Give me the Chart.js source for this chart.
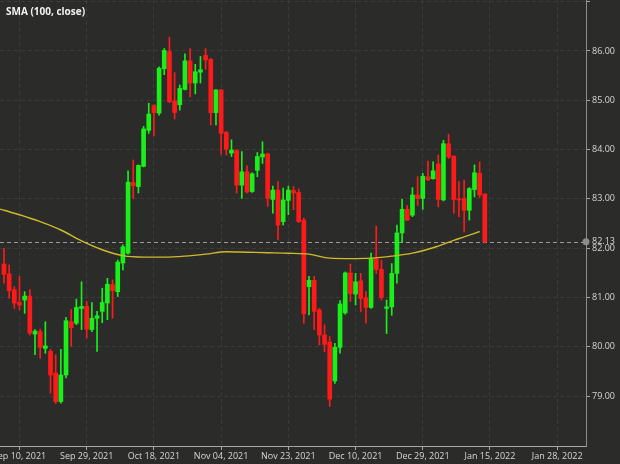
<!DOCTYPE html>
<html>
<head>
<meta charset="utf-8">
<script src="https://cdn.jsdelivr.net/npm/chart.js@4.4.1/dist/chart.umd.min.js"></script>
<style>
html,body{margin:0;padding:0;background:#2b2c2a;}
#wrap{position:relative;width:620px;height:464px;overflow:hidden;}
#title{position:absolute;left:6px;top:5px;font-family:'Open Sans';font-weight:700;font-size:10px;line-height:12px;color:#f2f2f2;white-space:nowrap;}
</style>
</head>
<body>
<div id="wrap"><canvas id="c"></canvas><div id="title">SMA (100, close)</div></div>
<script>
// ---- data (slot 0 = Sep 10, 2021; one slot per trading day) ----
const firstSlot = -3;
const open  = [81.68,81.48,81.16,80.90,80.95,81.03,80.26,80.31,79.97,79.91,79.47,78.89,79.43,80.51,80.48,80.78,80.82,80.35,80.58,80.72,80.89,81.26,81.12,81.70,81.90,83.33,83.25,83.66,84.39,84.90,84.74,85.64,85.99,84.99,84.91,85.22,85.80,85.35,85.57,85.91,85.83,84.75,85.21,84.35,83.93,83.98,83.28,83.55,83.15,83.58,83.85,83.91,82.99,83.18,82.54,82.97,83.17,83.13,82.57,81.22,81.35,80.75,80.24,80.10,79.31,79.99,80.69,81.50,81.07,81.34,81.00,80.80,81.79,81.57,80.78,80.81,81.49,82.31,82.79,82.67,83.08,83.01,83.45,83.41,83.71,82.98,84.12,83.87,83.00,83.01,82.77,83.19,83.52,83.10];
const high  = [82.00,81.66,81.22,81.43,81.12,81.16,80.35,80.36,80.51,79.95,79.84,79.95,80.60,80.76,80.97,81.32,80.92,80.90,80.72,81.19,81.39,81.36,81.76,82.07,83.57,83.79,83.69,84.47,84.94,84.91,85.68,86.05,86.28,85.56,85.31,85.94,86.05,85.73,85.89,86.05,85.85,85.22,85.22,84.37,84.20,84.00,83.96,83.67,83.53,83.94,84.16,83.93,83.26,83.35,83.22,83.26,83.25,83.20,82.61,81.43,81.43,80.78,80.45,80.21,80.07,80.94,81.52,81.68,81.49,81.49,81.12,81.90,82.45,81.76,80.95,81.69,82.47,82.99,82.87,83.23,83.45,83.52,83.77,83.75,83.89,84.19,84.31,83.87,83.35,83.38,83.23,83.69,83.75,83.11];
const low   = [81.29,80.99,80.78,80.75,80.68,80.24,79.84,79.77,79.87,79.06,78.85,78.86,79.37,80.01,80.45,80.35,80.18,80.31,79.91,80.49,80.55,80.58,81.02,81.56,81.88,83.01,83.12,83.65,84.33,84.28,84.70,85.52,84.95,84.62,84.80,85.21,85.07,85.13,85.35,85.63,84.50,84.50,83.91,83.89,83.86,83.12,83.01,83.12,83.13,83.45,83.72,82.85,82.71,82.17,82.47,82.68,82.78,82.52,80.48,80.65,80.35,80.04,79.90,78.79,79.26,79.87,80.66,80.92,80.85,80.71,80.48,80.78,81.49,80.95,80.27,80.64,81.29,82.13,82.56,82.64,82.87,82.79,83.37,83.40,82.84,82.96,83.82,82.71,82.64,82.33,82.57,83.04,83.03,82.11];
const close = [81.47,81.14,80.89,80.85,81.03,80.28,80.32,79.99,80.02,79.43,78.89,79.43,80.53,80.39,80.80,80.82,80.36,80.58,80.63,80.90,81.27,81.14,81.72,82.03,83.34,83.27,83.68,84.42,84.72,84.75,85.65,86.01,84.97,84.75,85.24,85.80,85.35,85.58,85.62,85.82,84.75,85.21,84.33,84.01,83.99,83.28,83.55,83.14,83.51,83.86,83.91,83.01,83.18,82.47,82.98,83.18,83.12,82.54,80.67,81.35,80.72,80.24,80.05,78.94,79.99,80.87,81.50,81.08,81.32,80.98,80.80,81.79,81.57,81.00,80.81,81.49,82.31,82.79,82.57,83.08,83.01,83.46,83.39,83.57,82.99,84.12,83.85,82.99,82.98,82.77,83.21,83.53,83.08,82.13];

const smaSlots  = [-4,-3,0,4,8,12,16,20,24,28,32,36,40,44,48,52,56,60,64,68,72,76,80,84,86,89];
const smaValues = [82.80,82.77,82.68,82.54,82.37,82.15,81.97,81.85,81.82,81.82,81.84,81.88,81.93,81.92,81.91,81.90,81.88,81.80,81.79,81.80,81.84,81.90,82.01,82.16,82.23,82.34];

const tickSlots  = [0,13,26,39,52,65,78,91,104];
const tickLabels = ['Sep 10, 2021','Sep 29, 2021','Oct 18, 2021','Nov 04, 2021','Nov 23, 2021','Dec 10, 2021','Dec 29, 2021','Jan 15, 2022','Jan 28, 2022'];
const priceTicks = [79,80,81,82,83,84,85,86,87];

// ---- build ----
const UP = '#19f019', DOWN = '#ff1a1a';
const slots = open.map((_, i) => firstSlot + i);
const isUp = i => close[i] >= open[i];
const bodyData = slots.map((s, i) => ({x: s, y: [open[i], close[i]]}));
const wickData = slots.map((s, i) => ({x: s, y: [low[i], high[i]]}));
const smaData  = smaSlots.map((s, i) => ({x: s, y: smaValues[i]}));
const lastClose = close[close.length - 1];
const FONT = {family: "'Open Sans'", size: 9};

const lastPrice = {
  id: 'lastPrice',
  beforeDatasetsDraw(chart) {
    const {ctx, chartArea: {left, right}} = chart;
    const y = Math.round(chart.scales.y.getPixelForValue(lastClose)) + 0.5;
    ctx.save();
    ctx.strokeStyle = '#9a9a98';
    ctx.lineWidth = 1;
    ctx.setLineDash([4, 3]);
    ctx.beginPath(); ctx.moveTo(left, y); ctx.lineTo(right, y); ctx.stroke();
    ctx.restore();
  },
  afterDraw(chart) {
    const {ctx, chartArea: {right}} = chart;
    const y = chart.scales.y.getPixelForValue(lastClose);
    ctx.save();
    ctx.fillStyle = '#8c8c8a';
    ctx.beginPath(); ctx.arc(right, y, 3.5, 0, Math.PI * 2); ctx.fill();
    ctx.fillStyle = '#d6d6d6';
    ctx.font = "9px 'Open Sans'";
    ctx.textBaseline = 'middle';
    ctx.fillText(lastClose.toFixed(2), right + 6, y);
    ctx.restore();
  }
};

new Chart(document.getElementById('c'), {
  type: 'bar',
  data: {
    datasets: [
      {type: 'line', data: smaData, borderColor: '#cfba2a', borderWidth: 1.4, pointRadius: 0,
       cubicInterpolationMode: 'monotone', order: 0},
      {data: bodyData, barThickness: 4, minBarLength: 1, grouped: false, order: 1,
       backgroundColor: c => isUp(c.dataIndex) ? UP : DOWN},
      {data: wickData, barThickness: 1, grouped: false, order: 2,
       backgroundColor: c => isUp(c.dataIndex) ? UP : DOWN}
    ]
  },
  options: {
    responsive: true, maintainAspectRatio: false, animation: false, events: [],
    layout: {padding: 0},
    plugins: {legend: {display: false}, tooltip: {enabled: false}, title: {display: false}},
    scales: {
      x: {
        type: 'linear', min: -3.77, max: 109.57, offset: false,
        afterBuildTicks: s => { s.ticks = tickSlots.map(v => ({value: v})); },
        afterFit: s => { s.height = 18; s.paddingLeft = 0; s.paddingRight = 0; },
        ticks: {autoSkip: false, maxRotation: 0, minRotation: 0, color: '#d6d6d6', font: FONT, padding: 1,
                callback: (v, i) => tickLabels[i]},
        grid: {color: '#3a3c39', lineWidth: 1, offset: false, tickLength: 4, tickColor: '#a8a8a8'},
        border: {display: true, color: '#a8a8a8', width: 1, dash: [4, 3]}
      },
      y: {
        type: 'linear', position: 'right', min: 77.99, max: 87.034,
        afterBuildTicks: s => { s.ticks = priceTicks.map(v => ({value: v})); },
        afterFit: s => { s.width = 34; s.paddingTop = 0; s.paddingBottom = 0; },
        ticks: {autoSkip: false, color: '#d6d6d6', font: FONT, padding: 2,
                callback: v => (v <= 86 ? v.toFixed(2) : '')},
        grid: {color: '#3a3c39', lineWidth: 1, tickLength: 4, tickColor: '#a8a8a8'},
        border: {display: true, color: '#8e8e8c', width: 1, dash: [4, 3]}
      }
    }
  },
  plugins: [lastPrice]
});
</script>
</body>
</html>
